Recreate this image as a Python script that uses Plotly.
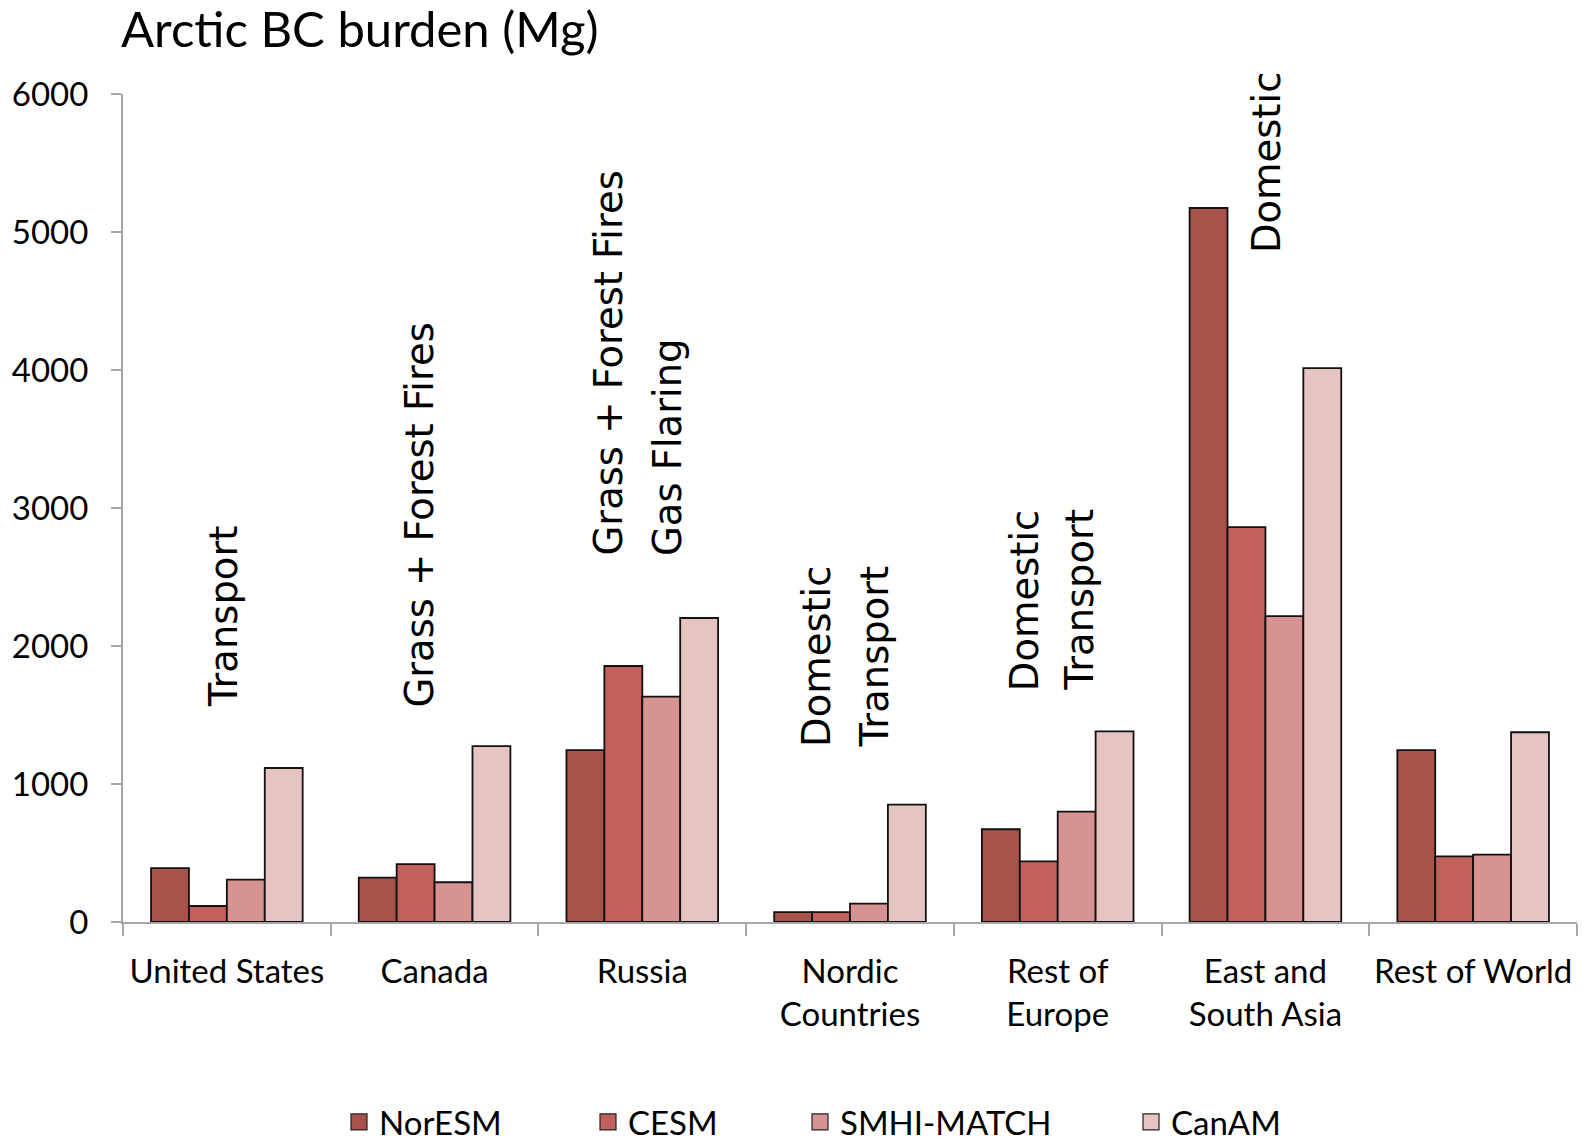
import plotly.graph_objects as go

# Source regions (x categories) and the four models
regions = ["United States", "Canada", "Russia", "Nordic Countries",
           "Rest of Europe", "East and South Asia", "Rest of World"]
region_ticks = ["United States", "Canada", "Russia", "Nordic<br>Countries",
                "Rest of<br>Europe", "East and<br>South Asia", "Rest of World"]
models = ["NorESM", "CESM", "SMHI-MATCH", "CanAM"]

# Arctic BC burden (Mg) per source region
noresm = [391, 322, 1246, 72, 672, 5174, 1246]
cesm = [116, 420, 1855, 72, 440, 2862, 476]
smhi_match = [307, 288, 1633, 133, 800, 2217, 488]
canam = [1116, 1274, 2203, 851, 1382, 4014, 1375]

# Dominant emission sectors written above each region
sector_labels = [["Transport"], ["Grass + Forest Fires"],
                 ["Grass + Forest Fires", "Gas Flaring"],
                 ["Domestic", "Transport"], ["Domestic", "Transport"],
                 ["Domestic"], []]
sector_label_base = [1540, 1540, 2640, 1250, 1660, 4832, None]
sector_label_shift = [[-3], [-15], [-34, 25], [-34, 24], [-33, 22], [1], []]

colors = ["#A8524C", "#C2605B", "#D69391", "#E5C4C2"]
series = [noresm, cesm, smhi_match, canam]

W, H = 1585, 1142
L, R, T, B = 123, 8, 94, 220
plot_w = W - L - R
plot_h = H - T - B

LAT = "Lato, 'Open Sans', sans-serif"
SANS = "'DejaVu Sans', Verdana, sans-serif"

fig = go.Figure()
for name, vals, col in zip(models, series, colors):
    fig.add_trace(go.Bar(
        x=regions, y=vals, name=name, marker_color=col,
        marker_line=dict(color="#111111", width=1.8),
        showlegend=False,
    ))

# Legend entries: one legend per model, spaced along the bottom
legend_sym_px = [361, 610, 822, 1153]
legend_names = ["legend", "legend2", "legend3", "legend4"]
for name, col, lg in zip(models, colors, legend_names):
    fig.add_trace(go.Scatter(
        x=[None], y=[None], mode="markers", name=name, legend=lg,
        marker=dict(symbol="square", size=16, color=col,
                    line=dict(color="#222222", width=1.2)),
        showlegend=True,
    ))

legend_layout = {}
for lg, px in zip(legend_names, legend_sym_px):
    legend_layout[lg] = dict(
        x=(px - 22 - L) / plot_w, xanchor="left",
        y=(T + plot_h - 1122) / plot_h, yanchor="middle",
        orientation="h", bgcolor="rgba(0,0,0,0)", borderwidth=0,
        font=dict(family=LAT, size=33, color="#000000"),
    )

annotations = []
for i, (lines, base, shifts) in enumerate(zip(sector_labels, sector_label_base,
                                               sector_label_shift)):
    for text, dx in zip(lines, shifts):
        annotations.append(dict(
            x=regions[i], y=base, xref="x", yref="y", text=text,
            textangle=-90, showarrow=False, xanchor="center", yanchor="bottom",
            xshift=dx, font=dict(family=SANS, size=38.5, color="#000000"),
        ))

fig.update_layout(
    width=W, height=H,
    margin=dict(l=L, r=R, t=T, b=B, pad=0, autoexpand=False),
    paper_bgcolor="white", plot_bgcolor="white",
    barmode="group", bargap=0.27, bargroupgap=0,
    title=dict(text="Arctic BC burden (Mg)", x=121 / W, xanchor="left",
               y=1 - 30 / H, yanchor="middle",
               font=dict(family=LAT, size=49, color="#000000")),
    annotations=annotations,
    **legend_layout,
)

fig.update_xaxes(
    type="category", categoryorder="array", categoryarray=regions,
    tickvals=regions, ticktext=region_ticks, tickangle=0, automargin=False,
    tickson="boundaries", ticks="outside", ticklen=12, tickwidth=2,
    tickcolor="#A6A6A6", showline=True, linecolor="#A6A6A6", linewidth=2,
    showgrid=False, zeroline=False, ticklabelstandoff=19,
    tickfont=dict(family=LAT, size=33, color="#000000"),
)
fig.update_yaxes(
    range=[0, 6000], dtick=1000, tick0=0, ticks="outside", ticklen=10,
    tickwidth=2, tickcolor="#A6A6A6", showline=True, linecolor="#A6A6A6",
    linewidth=2, showgrid=False, zeroline=False, ticklabelstandoff=16,
    automargin=False,
    tickfont=dict(family=LAT, size=33, color="#000000"),
)

fig.write_html("out.html")
